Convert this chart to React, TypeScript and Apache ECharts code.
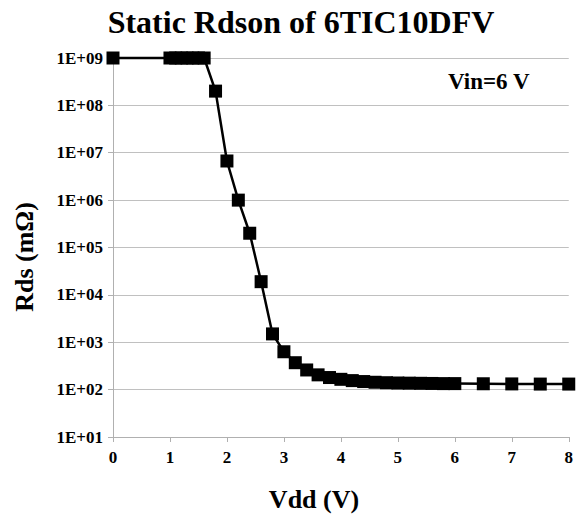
import React, { useEffect, useRef } from "react";
import * as echarts from "echarts";

const vdd = [0, 1.0, 1.1, 1.2, 1.3, 1.4, 1.5, 1.6, 1.8, 2.0, 2.2, 2.4, 2.6, 2.8, 3.0, 3.2, 3.4, 3.6, 3.8, 4.0, 4.2, 4.4, 4.6, 4.8, 5.0, 5.2, 5.4, 5.6, 5.8, 6.0, 6.5, 7.0, 7.5, 8.0];
const rds = [1e9, 1e9, 1e9, 1e9, 1e9, 1e9, 1e9, 1e9, 2e8, 6.7e6, 1e6, 2e5, 1.9e4, 1.5e3, 630, 370, 260, 205, 180, 165, 155, 148, 143, 140, 138, 137, 136, 135, 134, 134, 133, 132, 131, 131];
const yTickExponents = ["01", "02", "03", "04", "05", "06", "07", "08", "09"];

const serif = "Liberation Serif";

export default function App() {
  const ref = useRef<HTMLDivElement>(null);
  useEffect(() => {
    if (!ref.current) return;
    const chart = echarts.init(ref.current, null, { renderer: "svg" });
    const data = vdd.map((v, i) => [v, rds[i]]);
    chart.setOption({
      animation: false,
      backgroundColor: "#ffffff",
      textStyle: { fontFamily: serif },
      title: {
        text: "Static Rdson of 6TIC10DFV",
        left: 296,
        top: 1,
        textAlign: "center",
        textStyle: { fontFamily: serif, fontWeight: "bold", fontSize: 32, color: "#000" },
      },
      grid: { left: 113, right: 4, top: 58, bottom: 82, containLabel: false },
      xAxis: {
        type: "value",
        min: 0,
        max: 8,
        interval: 1,
        axisLine: { show: true, lineStyle: { color: "#b0b0b0", width: 1 } },
        axisTick: { show: true, length: 5, lineStyle: { color: "#b0b0b0" } },
        axisLabel: { fontFamily: serif, fontWeight: "bold", fontSize: 17, color: "#000", margin: 12 },
        splitLine: { show: false },
      },
      yAxis: {
        type: "log",
        logBase: 10,
        min: 10,
        max: 1e9,
        interval: 1,
        axisLine: { show: true, lineStyle: { color: "#b0b0b0", width: 1 } },
        axisTick: { show: true, length: 5, lineStyle: { color: "#b0b0b0" } },
        axisLabel: {
          fontFamily: serif,
          fontWeight: "bold",
          fontSize: 17,
          color: "#000",
          margin: 10,
          formatter: (v: number) => {
            const e = Math.round(Math.log10(v));
            const s = yTickExponents.find((x) => parseInt(x, 10) === e) ?? String(e).padStart(2, "0");
            return "1E+" + s;
          },
        },
        splitLine: { show: true, lineStyle: { color: "#c0c0c0", width: 1 } },
      },
      graphic: [
        {
          type: "text",
          left: 448,
          top: 70,
          style: { text: "Vin=6 V", fontFamily: serif, fontWeight: "bold", fontSize: 23, fill: "#000" },
        },
        {
          type: "text",
          x: 314,
          y: 499,
          style: {
            text: "Vdd (V)",
            fontFamily: serif,
            fontWeight: "bold",
            fontSize: 26,
            fill: "#000",
            align: "center",
            verticalAlign: "middle",
          },
        },
        {
          type: "text",
          x: 24,
          y: 257,
          rotation: Math.PI / 2,
          style: {
            text: "Rds (mΩ)",
            fontFamily: serif,
            fontWeight: "bold",
            fontSize: 26,
            fill: "#000",
            align: "center",
            verticalAlign: "middle",
          },
        },
      ],
      series: [
        {
          type: "line",
          data,
          clip: false,
          symbol: "rect",
          symbolSize: 13,
          lineStyle: { color: "#000", width: 2.5 },
          itemStyle: { color: "#000" },
          z: 5,
        },
      ],
    });
    return () => chart.dispose();
  }, []);
  return <div ref={ref} style={{ position: "fixed", left: 0, top: 0, width: 576, height: 519 }} />;
}
